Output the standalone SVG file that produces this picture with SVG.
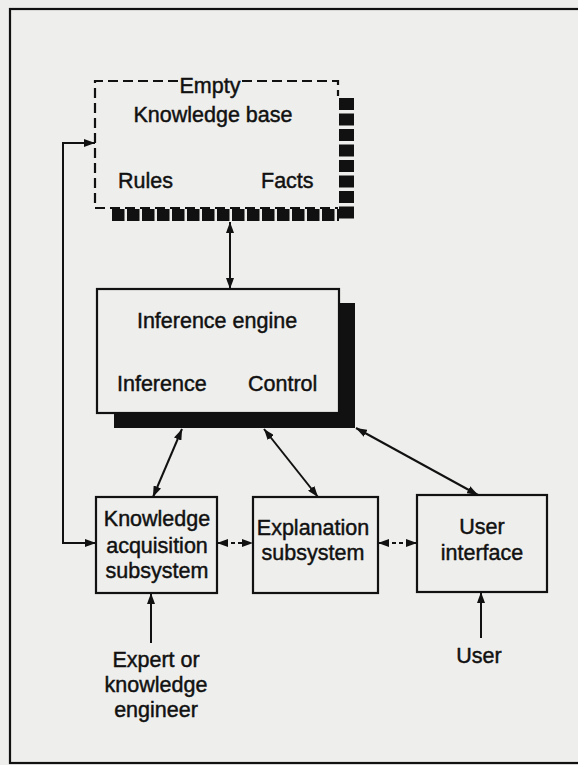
<svg xmlns="http://www.w3.org/2000/svg" width="578" height="765" viewBox="0 0 578 765">
<defs>
<marker id="ah" viewBox="0 0 11 8" refX="11" refY="4" markerWidth="11" markerHeight="8" markerUnits="userSpaceOnUse" orient="auto-start-reverse">
<path d="M0,0 L11,4 L0,8 z" fill="#111"/>
</marker>
<style>
text{font-family:"Liberation Sans",Arial,sans-serif;font-size:21.5px;fill:#111;stroke:#111;stroke-width:0.45px;}
.c{text-anchor:middle;}
.box{fill:none;stroke:#111;stroke-width:2.2;}
.con{fill:none;stroke:#111;stroke-width:2;marker-start:url(#ah);marker-end:url(#ah);}
.one{fill:none;stroke:#111;stroke-width:2;marker-end:url(#ah);}
.dash{stroke-dasharray:4 3;}
</style>
</defs>
<rect width="578" height="765" fill="#eeeeec"/>
<rect x="10" y="9" width="600" height="754" fill="none" stroke="#111" stroke-width="2.2"/>

<g id="knowledge-base">
<path d="M178,81 H95 V208 H338" fill="none" stroke="#111" stroke-width="2.2" stroke-dasharray="10 5"/>
<path d="M242,81 H338 V96" fill="none" stroke="#111" stroke-width="2.2" stroke-dasharray="10 5"/>
<line x1="346.5" y1="98" x2="346.5" y2="222" stroke="#111" stroke-width="15" stroke-dasharray="12 3.5"/>
<line x1="112" y1="215" x2="339" y2="215" stroke="#111" stroke-width="12" stroke-dasharray="12.5 2.5"/>
<text class="c" x="210" y="93">Empty</text>
<text class="c" x="213" y="122">Knowledge base</text>
<text x="118" y="188">Rules</text>
<text x="261" y="188">Facts</text>
</g>

<g id="inference-engine">
<path d="M339,303 H355 V428 H114 V413 H339 Z" fill="#111"/>
<rect class="box" x="97" y="289" width="242" height="124" fill="#eeeeec"/>
<text class="c" x="217" y="328">Inference engine</text>
<text x="117" y="391">Inference</text>
<text x="248" y="391">Control</text>
</g>

<g id="knowledge-acquisition">
<rect class="box" x="96" y="497" width="121" height="96"/>
<text class="c" x="157" y="526">Knowledge</text>
<text class="c" x="157" y="553">acquisition</text>
<text class="c" x="157" y="578">subsystem</text>
</g>

<g id="explanation">
<rect class="box" x="253" y="497" width="125" height="96"/>
<text class="c" x="313" y="535">Explanation</text>
<text class="c" x="313" y="560">subsystem</text>
</g>

<g id="user-interface">
<rect class="box" x="417" y="495" width="130" height="97"/>
<text class="c" x="482" y="534">User</text>
<text class="c" x="482" y="560">interface</text>
</g>

<g id="expert">
<text class="c" x="156" y="667">Expert or</text>
<text class="c" x="156" y="692">knowledge</text>
<text class="c" x="156" y="717">engineer</text>
</g>

<g id="user">
<text class="c" x="479" y="663">User</text>
</g>

<g id="connectors">
<line class="con" x1="230" y1="222" x2="230" y2="289"/>
<line class="con" x1="182" y1="429" x2="153" y2="497"/>
<line class="con" x1="264" y1="429" x2="318" y2="497"/>
<line class="con" x1="356" y1="428" x2="478" y2="495"/>
<line class="con dash" x1="217" y1="543" x2="253" y2="543"/>
<line class="con dash" x1="378" y1="543" x2="417" y2="543"/>
<path class="con" d="M96,543 H63 V143 H95"/>
<line class="one" x1="151" y1="643" x2="151" y2="593"/>
<line class="one" x1="481" y1="638" x2="481" y2="592"/>
</g>
</svg>
